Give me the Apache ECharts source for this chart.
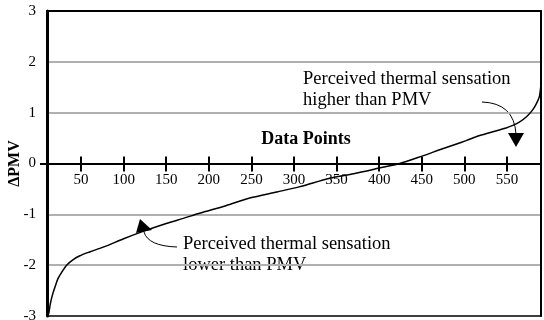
<!DOCTYPE html>
<html>
<head>
<meta charset="utf-8">
<script src="https://cdn.jsdelivr.net/npm/echarts@6/dist/echarts.min.js"></script>
<style>html,body{margin:0;padding:0;background:#fff;}#c{width:544px;height:320px;}</style>
</head>
<body>
<div id="c"></div>
<script>
// Data
var pointIndex = [10, 12, 14, 17, 20, 23, 28, 33, 40, 48, 60, 72, 80, 100, 122, 150, 170, 189, 220, 248, 280, 306, 342, 370, 400, 424, 451, 471, 490, 502, 520, 549, 557, 565, 573, 580, 584, 588, 590];
var deltaPMV   = [-3.0, -2.95, -2.75, -2.55, -2.4, -2.26, -2.12, -2.0, -1.9, -1.82, -1.74, -1.67, -1.62, -1.48, -1.34, -1.18, -1.08, -0.98, -0.83, -0.68, -0.56, -0.46, -0.29, -0.2, -0.09, 0.0, 0.15, 0.27, 0.38, 0.45, 0.56, 0.70, 0.75, 0.82, 0.92, 1.05, 1.16, 1.31, 1.58];
var xTickLabels = [50, 100, 150, 200, 250, 300, 350, 400, 450, 500, 550];
var noteHigh = ['Perceived thermal sensation', 'higher than PMV'];
var noteLow = ['Perceived thermal sensation', 'lower than PMV'];

var serif = 'Liberation Serif';
var seriesData = pointIndex.map(function (x, i) { return [x, deltaPMV[i]]; });

var gridTop = 11, gridBottom = 4, chartH = 320;
var gridH = chartH - gridTop - gridBottom;
var zeroOffset = -gridH / 2; // lift the x axis from the bottom edge to the zero line (range -3..3)

function frameAxis(pos, width) {
  return {
    type: 'value', min: pos === 'top' || pos === 'bottom' ? 10 : -3, max: pos === 'top' || pos === 'bottom' ? 590 : 3,
    position: pos, offset: 0,
    axisLine: {show: true, onZero: false, lineStyle: {color: '#000', width: width}},
    axisTick: {show: false}, axisLabel: {show: false}, splitLine: {show: false}
  };
}

var chart = echarts.init(document.getElementById('c'), null, {renderer: 'canvas'});
chart.setOption({
  animation: false,
  backgroundColor: '#fff',
  grid: {left: 47, right: 3, top: gridTop, bottom: gridBottom, containLabel: false, outerBoundsMode: 'none', show: false},
  xAxis: [{
    type: 'value', min: 10, max: 590, position: 'bottom', offset: zeroOffset,
    axisLine: {show: true, onZero: false, lineStyle: {color: '#000', width: 2}},
    axisTick: {show: true, customValues: xTickLabels, length: 8, lineStyle: {color: '#000', width: 2}},
    axisLabel: {show: true, customValues: xTickLabels, margin: 9, fontFamily: serif, fontSize: 15, color: '#000'},
    splitLine: {show: false}
  }, {
    type: 'value', min: 10, max: 590, position: 'bottom', offset: zeroOffset,
    name: 'Data Points', nameLocation: 'middle', nameGap: -33, nameMoveOverlap: false,
    nameTextStyle: {fontFamily: serif, fontWeight: 'bold', fontSize: 18, color: '#000', padding: [0, 0, 0, 24]},
    axisLine: {show: false, onZero: false},
    axisTick: {show: true, inside: true, customValues: xTickLabels, length: 7, lineStyle: {color: '#000', width: 2}},
    axisLabel: {show: false},
    splitLine: {show: false}
  }, frameAxis('top', 2), frameAxis('bottom', 1.5)],
  yAxis: [{
    type: 'value', min: -3, max: 3, interval: 1, position: 'left',
    name: '\u0394PMV', nameLocation: 'middle', nameGap: 24, nameRotate: 90, nameMoveOverlap: false,
    nameTextStyle: {fontFamily: serif, fontWeight: 'bold', fontSize: 16, color: '#000'},
    axisLine: {show: true, onZero: false, lineStyle: {color: '#000', width: 3}},
    axisTick: {show: false},
    axisLabel: {margin: 11, fontFamily: serif, fontSize: 15, color: '#000'},
    splitLine: {show: true, showMinLine: false, showMaxLine: false, lineStyle: {color: '#b0b0b0', width: 2}}
  }, {
    type: 'value', min: -3, max: 3, interval: 1, position: 'left',
    axisLine: {show: false, onZero: false},
    axisTick: {show: true, customValues: [0], length: 7, lineStyle: {color: '#000', width: 2}},
    axisLabel: {show: false},
    splitLine: {show: false}
  }, frameAxis('right', 2)],
  graphic: [
    {type: 'text', left: 303, top: 69, style: {text: noteHigh.join('\n'), font: '18.5px "Liberation Serif"', fill: '#000', lineHeight: 21}},
    {type: 'text', left: 183, top: 234, style: {text: noteLow.join('\n'), font: '18.5px "Liberation Serif"', fill: '#000', lineHeight: 21}},
    {type: 'bezierCurve', shape: {x1: 482, y1: 102, x2: 516, y2: 134, cpx1: 514, cpy1: 103}, style: {stroke: '#000', lineWidth: 1, fill: null}},
    {type: 'polygon', shape: {points: [[508, 133], [524, 133], [516, 147]]}, style: {fill: '#000'}},
    {type: 'bezierCurve', shape: {x1: 177, y1: 247, x2: 144, y2: 232, cpx1: 148, cpy1: 246}, style: {stroke: '#000', lineWidth: 1, fill: null}},
    {type: 'polygon', shape: {points: [[140, 219], [136, 233], [152, 230]]}, style: {fill: '#000'}}
  ],
  series: [{
    type: 'line', data: seriesData, showSymbol: false, smooth: 0.3,
    lineStyle: {color: '#000', width: 1.5}
  }]
});
</script>
</body>
</html>
